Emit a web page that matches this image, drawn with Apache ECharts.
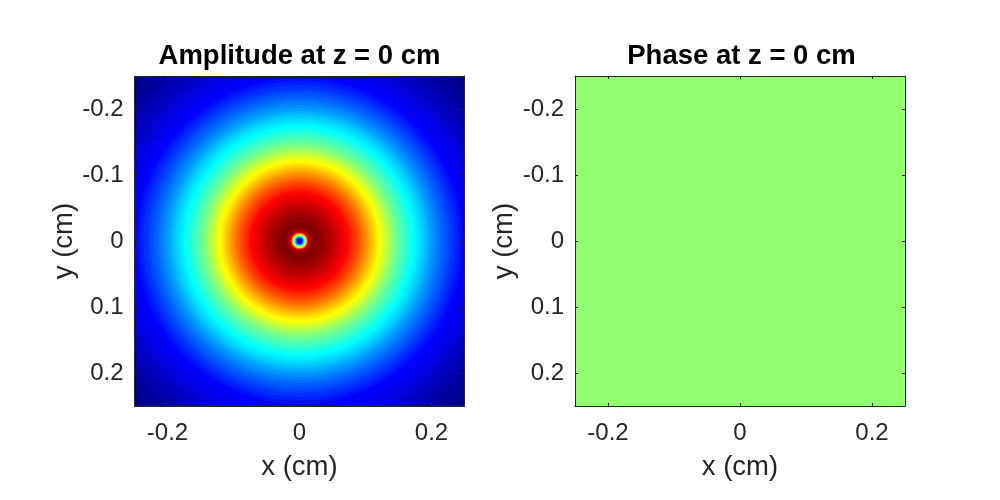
<!DOCTYPE html>
<html>
<head>
<meta charset="utf-8">
<style>html,body{margin:0;padding:0;background:#fff}#main{width:1000px;height:500px}</style>
<script src="https://cdn.jsdelivr.net/npm/echarts@6/dist/echarts.min.js"></script>
</head>
<body>
<div id="main"></div>
<script>
// ring radius in cm, outermost first, and the amplitude (0..1) inside it
var ringRadius = [
  0.3576, 0.3424, 0.3273, 0.3136, 0.3, 0.2879, 0.2788, 0.2697, 0.2576, 0.247,
  0.2417, 0.2364, 0.2303, 0.2258, 0.2205, 0.2152, 0.2106, 0.2061, 0.2015, 0.197,
  0.1932, 0.1894, 0.1848, 0.1803, 0.1758, 0.1712, 0.1674, 0.1636, 0.1598, 0.1561,
  0.1523, 0.1485, 0.1455, 0.1424, 0.1394, 0.1364, 0.1341, 0.1318, 0.1288, 0.1258,
  0.1227, 0.1197, 0.1167, 0.1136, 0.1114, 0.1083, 0.1053, 0.103, 0.1, 0.097,
  0.0939, 0.0909, 0.0879, 0.0841, 0.0803, 0.0773, 0.0742, 0.0689, 0.0644, 0.0591,
  0.0538, 0.0485, 0.0424, 0.0364, 0.0288, 0.0212, 0.0174, 0.0136, 0.0121, 0.0106,
  0.0091, 0.0076, 0.0061, 0.0045, 0.0023
];
var ringAmplitude = [
  0, 0.016, 0.031, 0.047, 0.0625, 0.078, 0.094, 0.109, 0.125, 0.141,
  0.156, 0.172, 0.1875, 0.203, 0.219, 0.234, 0.25, 0.266, 0.281, 0.297,
  0.3125, 0.328, 0.344, 0.359, 0.375, 0.391, 0.406, 0.422, 0.4375, 0.453,
  0.469, 0.484, 0.5, 0.516, 0.531, 0.547, 0.5625, 0.578, 0.594, 0.609,
  0.625, 0.641, 0.656, 0.672, 0.6875, 0.703, 0.719, 0.734, 0.75, 0.766,
  0.781, 0.797, 0.8125, 0.828, 0.844, 0.859, 0.875, 0.891, 0.906, 0.922,
  0.9375, 0.953, 0.969, 0.984, 1, 0.985, 0.95, 0.875, 0.75, 0.625,
  0.5, 0.375, 0.25, 0.125, 0.08
];
// phase is flat over the whole window
var phaseX = [-0.25, 0.25];
var phaseY = [-0.25, 0.25];
var phaseLevel = [0.517];
var xTicks = [-0.2, 0, 0.2];
var yTicks = [-0.2, -0.1, 0, 0.1, 0.2];
var titles = ['Amplitude at z = 0 cm', 'Phase at z = 0 cm'];
var jet = ['#000082', '#0000ff', '#0080ff', '#00ffff', '#80ff80', '#ffff00', '#ff8000', '#ff0000', '#800000'];

var font = 'Liberation Sans';
var ink = '#262626';

function makeAxis(type, gridIndex, ticks, side, name) {
  var labelled = side === 'bottom' || side === 'left';
  return {
    type: 'value',
    gridIndex: gridIndex,
    position: side,
    min: -0.25,
    max: 0.25,
    inverse: type === 'y',
    z: 10,
    name: labelled ? name : '',
    nameLocation: 'middle',
    nameGap: type === 'x' ? 47 : 54,
    nameTextStyle: { color: ink, fontFamily: font, fontSize: 27.5 },
    axisLine: { show: true, onZero: false, lineStyle: { color: ink, width: 1 } },
    axisTick: { show: true, inside: true, length: 3, customValues: ticks, lineStyle: { color: ink, width: 1 } },
    axisLabel: {
      show: labelled,
      customValues: ticks,
      margin: type === 'x' ? 15 : 11,
      padding: type === 'y' ? [9, 0, 0, 0] : 0,
      color: ink,
      fontFamily: font,
      fontSize: 24
    },
    splitLine: { show: false }
  };
}

var xAxes = [], yAxes = [];
[0, 1].forEach(function (g) {
  xAxes.push(makeAxis('x', g, xTicks, 'bottom', 'x (cm)'), makeAxis('x', g, xTicks, 'top'));
  yAxes.push(makeAxis('y', g, yTicks, 'left', 'y (cm)'), makeAxis('y', g, yTicks, 'right'));
});

var ringData = ringRadius.map(function (r, i) { return [0, 0, r, ringAmplitude[i]]; });

var option = {
  animation: false,
  backgroundColor: '#fff',
  title: [
    { text: titles[0], left: 294.5, top: 37, textAlign: 'center', textStyle: { color: '#000', fontFamily: font, fontSize: 27.5, fontWeight: 'bold' } },
    { text: titles[1], left: 736.5, top: 37, textAlign: 'center', textStyle: { color: '#000', fontFamily: font, fontSize: 27.5, fontWeight: 'bold' } }
  ],
  grid: [
    { left: 134.5, top: 76, width: 330, height: 330 },
    { left: 575, top: 76, width: 330, height: 330 }
  ],
  xAxis: xAxes,
  yAxis: yAxes,
  visualMap: [
    { show: false, seriesIndex: 0, dimension: 3, min: 0, max: 1, inRange: { color: jet } },
    { show: false, seriesIndex: 1, dimension: 4, min: 0, max: 1, inRange: { color: jet } }
  ],
  series: [
    {
      type: 'custom',
      xAxisIndex: 0,
      yAxisIndex: 0,
      clip: true,
      z: 2,
      silent: true,
      encode: { x: 0, y: 1 },
      data: ringData,
      renderItem: function (params, api) {
        var c = api.coord([api.value(0), api.value(1)]);
        var size = api.size([api.value(2), api.value(2)]);
        return { type: 'circle', shape: { cx: c[0], cy: c[1], r: size[0] }, style: { fill: api.visual('color') } };
      }
    },
    {
      type: 'custom',
      xAxisIndex: 2,
      yAxisIndex: 2,
      clip: true,
      z: 2,
      silent: true,
      encode: { x: [0, 1], y: [2, 3] },
      data: [[phaseX[0], phaseX[1], phaseY[0], phaseY[1], phaseLevel[0]]],
      renderItem: function (params, api) {
        var a = api.coord([api.value(0), api.value(2)]);
        var b = api.coord([api.value(1), api.value(3)]);
        return { type: 'rect', shape: { x: a[0], y: a[1], width: b[0] - a[0], height: b[1] - a[1] }, style: { fill: api.visual('color') } };
      }
    }
  ]
};

var chart = echarts.init(document.getElementById('main'));
chart.setOption(option);
</script>
</body>
</html>
